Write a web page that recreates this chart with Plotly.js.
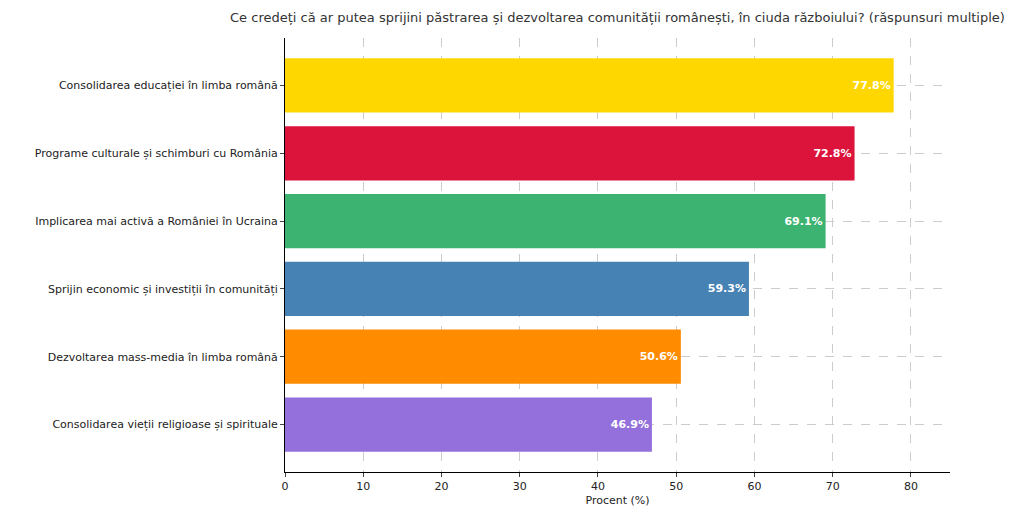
<!DOCTYPE html>
<html><head><meta charset="utf-8">
<script src="https://cdn.plot.ly/plotly-3.0.1.min.js"></script>
<style>body{margin:0}</style></head><body>
<div id="c" style="width:1024px;height:512px"></div>
<script>
const categories = ["Consolidarea educației în limba română","Programe culturale și schimburi cu România","Implicarea mai activă a României în Ucraina","Sprijin economic și investiții în comunități","Dezvoltarea mass-media în limba română","Consolidarea vieții religioase și spirituale"];
const values = [77.8, 72.8, 69.1, 59.3, 50.6, 46.9];
const colors = ["#FFD700","#DC143C","#3CB371","#4682B4","#FF8C00","#9370DB"];
Plotly.newPlot("c", [{
  type: "bar", orientation: "h", x: values, y: categories, width: 0.8,
  marker: {color: colors},
  text: values.map(v => v.toFixed(1) + "%"), textposition: "inside", insidetextanchor: "end",
  textfont: {color: "white", size: 11, family: "DejaVu Sans"}, texttemplate: "<b>%{text}</b>",
  hoverinfo: "none"
}], {
  width: 1024, height: 512,
  margin: {l: 285, r: 74, t: 38, b: 40},
  font: {family: "DejaVu Sans", size: 11, color: "#222"},
  title: {text: "Ce credeți că ar putea sprijini păstrarea și dezvoltarea comunității românești, în ciuda războiului? (răspunsuri multiple)", x: 0.603, xanchor: "center", y: 0.975, font: {size: 13, color: "#333"}},
  xaxis: {range: [0, 85], dtick: 10, showgrid: true, gridcolor: "#ccc", griddash: "dash", showline: true, linecolor: "#000", ticks: "outside", ticklen: 4, zeroline: false,
    title: {text: "Procent (%)", standoff: 4, font: {size: 11}}},
  yaxis: {autorange: false, range: [5.7, -0.7], showgrid: true, gridcolor: "#ccc", griddash: "dash", showline: true, linecolor: "#000", ticks: "outside", ticklen: 4, tickfont: {size: 11}},
  plot_bgcolor: "white", paper_bgcolor: "white", showlegend: false
}, {displayModeBar: false});
</script></body></html>
